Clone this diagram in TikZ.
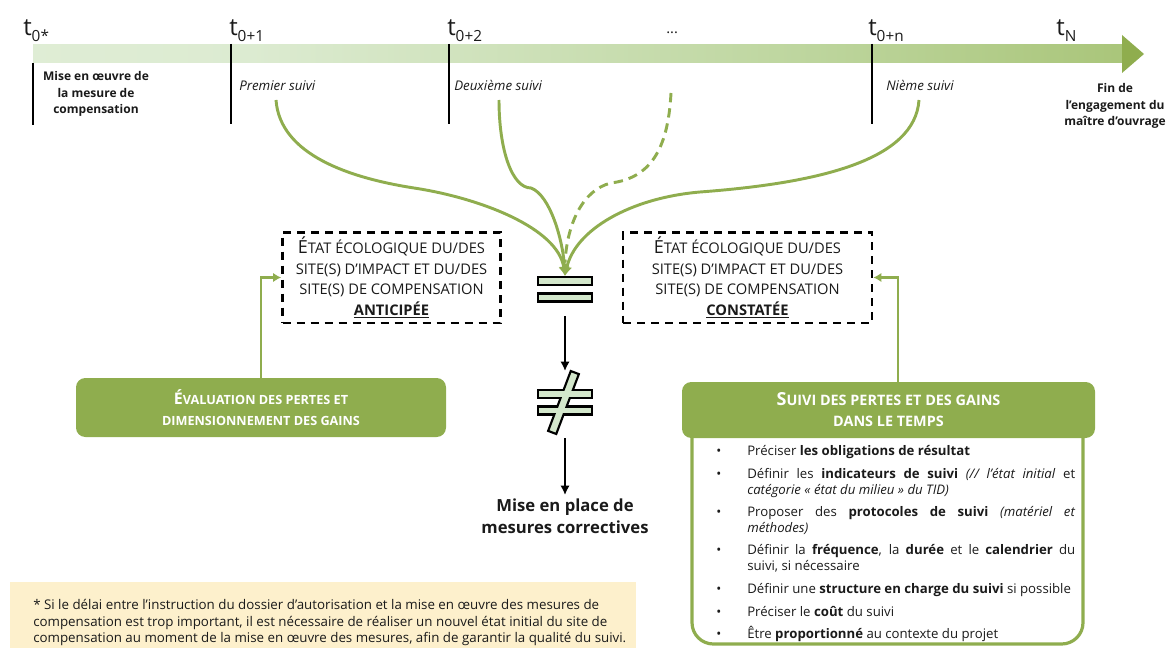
\documentclass[tikz,border=0pt]{standalone}
\usepackage{fontspec}
\setmainfont{Open Sans}
\usetikzlibrary{arrows.meta}
\definecolor{gr}{HTML}{8FAD4E}
\definecolor{barA}{HTML}{E6F1DE}
\definecolor{barB}{HTML}{DCEBD1}
\definecolor{barC}{HTML}{BED69F}
\definecolor{barD}{HTML}{A3C06E}
\definecolor{eqf}{HTML}{D3E7CB}
\definecolor{notef}{HTML}{FDF0CC}
\definecolor{ink}{HTML}{1A1A1A}
\pgfdeclarehorizontalshading{barshade}{100bp}{color(0bp)=(barA); color(35bp)=(barB); color(60bp)=(barC); color(80bp)=(barD); color(100bp)=(gr)}
\newcommand\bigsc[2]{{\fontsize{#1}{14}\selectfont #2}}
\newcommand\lowsc[2]{{\fontsize{#1}{14}\selectfont #2}}
\newcommand\tsub[1]{t\raisebox{-4.5pt}{\fontsize{11.5}{12}\selectfont #1}}
\begin{document}
\begin{tikzpicture}[x=0.75pt,y=-0.75pt,
  tlab/.style={anchor=base west, inner sep=0, text=ink, font=\fontsize{18}{20}\selectfont},
  tick/.style={draw=black, line width=1.8pt},
  sub/.style={anchor=base west, inner sep=0, text=ink, font=\fontsize{10}{11}\selectfont\itshape},
  bold9/.style={inner sep=0, text=ink, align=center, font=\fontsize{9}{12.5}\selectfont\bfseries},
  flow/.style={draw=gr, line width=2.2pt},
  flowtip/.style={flow, -{Latex[length=7pt,width=8pt]}},
  dbox/.style={draw=black, line width=2pt, dash pattern=on 6pt off 4.5pt, minimum height=68pt, inner sep=0, align=center, text=ink, font=\fontsize{11}{15.4}\selectfont},
  hdr/.style={fill=gr, rounded corners=7pt, inner sep=0, text=white, align=center, font=\fontsize{9}{15.75}\selectfont\bfseries},
  eqbar/.style={draw=black, line width=1.6pt, fill=eqf, minimum width=40.5pt, minimum height=6pt, inner sep=0},
  eqfillonly/.style={fill=eqf, minimum width=38.5pt, minimum height=4pt, inner sep=0},
  blk/.style={draw=black, line width=1.5pt, -{Latex[length=7pt,width=7pt]}},
  garr/.style={draw=gr, line width=2pt, -{Latex[length=6pt,width=7pt]}},
  item/.style={anchor=base west, inner sep=0, text=ink, font=\fontsize{9.9}{11}\selectfont},
  note/.style={anchor=base west, inner sep=0, text=ink, font=\fontsize{10}{11}\selectfont}]
\useasboundingbox (0,0) rectangle (1171,649);

% timeline
\shade[shading=barshade] (33,45) rectangle (1123,63);
\fill[gr] (1122,35) -- (1144,54) -- (1122,73) -- cycle;
\coordinate (k0a) at (33,63);  \coordinate (k0b) at (33,125);
\coordinate (k1a) at (231,44); \coordinate (k1b) at (231,124);
\coordinate (k2a) at (449,44); \coordinate (k2b) at (449,124);
\coordinate (kna) at (872,44); \coordinate (knb) at (872,124);
\draw[tick] (k0a) -- (k0b);
\draw[tick] (k1a) -- (k1b);
\draw[tick] (k2a) -- (k2b);
\draw[tick] (kna) -- (knb);
\node[tlab] (t0) at (23,36) {\tsub{0*}};
\node[tlab] (t1) at (229,36) {\tsub{0+1}};
\node[tlab] (t2) at (447,36) {\tsub{0+2}};
\node[tlab] (tdots) at (666,34) {\fontsize{11}{12}\selectfont ...};
\node[tlab] (tn) at (868,36) {\tsub{0+n}};
\node[tlab] (tN) at (1056,36) {\tsub{N}};

\node[bold9] (mise) at (96,94) {Mise en œuvre de\\la mesure de\\compensation};
\node[sub] (s1) at (239,91) {Premier suivi};
\node[sub] (s2) at (454,91) {Deuxième suivi};
\node[sub] (sn) at (886,91) {Nième suivi};
\node[bold9] (fin) at (1115,106) {Fin de\\l’engagement du\\maître d’ouvrage};

% equality sign
\node[eqbar] (eq1) at (565,281) {};
\node[eqbar] (eq2) at (565,297.5) {};

% curves
\coordinate (c1) at (276,100);
\coordinate (c2) at (499,100);
\coordinate (c3) at (671,93);
\coordinate (c4) at (919,100);
\draw[flowtip] (c1) .. controls (280,155) and (350,178) .. (414,188) .. controls (480,198) and (558,228) .. (eq1.north);
\draw[flowtip] (c2) .. controls (499,150) and (512,188) .. (531,188) .. controls (550,195) and (563,240) .. (eq1.north);
\draw[flowtip] (c4) .. controls (915,160) and (820,183) .. (700,192) .. controls (630,198) and (575,230) .. (eq1.north);
\draw[flow, dash pattern=on 7pt off 4.5pt] (c3) .. controls (668,150) and (650,178) .. (611,183) .. controls (582,190) and (567,225) .. ([yshift=10pt]eq1.north);

% dashed boxes
\node[dbox, minimum width=163.5pt] (boxL) at (391.5,277.5) {\bigsc{13.5}{É}\lowsc{11}{TAT ÉCOLOGIQUE DU/DES}\\\lowsc{11}{SITE(S) D’IMPACT ET DU/DES}\\\lowsc{11}{SITE(S) DE COMPENSATION}\\{\bfseries\fontsize{11}{14}\selectfont\underline{ANTICIPÉE}}};
\node[dbox, minimum width=186.75pt] (boxR) at (747.5,277.5) {\bigsc{13.5}{É}\lowsc{11}{TAT ÉCOLOGIQUE DU/DES}\\\lowsc{11}{SITE(S) D’IMPACT ET DU/DES}\\\lowsc{11}{SITE(S) DE COMPENSATION}\\{\bfseries\fontsize{11}{14}\selectfont\underline{CONSTATÉE}}};

% not-equal sign
\node[eqbar] (ne1) at (565,394) {};
\node[eqbar] (ne2) at (565,410.5) {};
\node[draw=black, line width=1.6pt, fill=eqf, minimum width=48pt, minimum height=6.5pt, inner sep=0, rotate=69.3] (slash) at (563.5,402.5) {};
\node[eqfillonly] at (ne1) {};
\node[eqfillonly] at (ne2) {};

\coordinate (a1s) at (565,316);
\coordinate (a1e) at (565,371);
\coordinate (a2s) at (565,438);
\coordinate (a2e) at (565,495);
\draw[blk] (a1s) -- (a1e);
\draw[blk] (a2s) -- (a2e);
\node[inner sep=0, text=ink, align=center, font=\fontsize{12.5}{16.5}\selectfont\bfseries] (corr) at (565,516) {Mise en place de\\mesures correctives};

% headers
\node[hdr, minimum width=277.5pt, minimum height=44.25pt] (eval) at (261,407.5) {\bigsc{12}{É}\lowsc{9.5}{VALUATION DES PERTES ET}\\\lowsc{9.5}{DIMENSIONNEMENT DES GAINS}};
\node[draw=gr, line width=2.4pt, rounded corners=16pt, minimum width=293.25pt, minimum height=183pt, inner sep=0] (frame) at (887.5,522) {};
\node[hdr, minimum width=309.75pt, minimum height=42pt] (suivi) at (888.5,410) {\bigsc{13.5}{S}\lowsc{10.8}{UIVI DES PERTES ET DES GAINS}\\\lowsc{10.8}{DANS LE TEMPS}};

\draw[garr] (eval.north) |- (boxL.west);
\draw[garr] ([xshift=7pt]suivi.north) |- (boxR.east);

% bullets
\foreach \yy/\nm in {455/b1,478/b2,516/b3,554/b4,593/b5,616/b6,638/b7}
  \node[item] (\nm) at (716,\yy) {•};
\node[item] (i1) at (747,455) {Préciser \textbf{les obligations de résultat}};
\node[item] (i2a) at (747,478) {\makebox[246pt][s]{Définir les \textbf{indicateurs de suivi} \textit{(// l’état initial} et}};
\node[item] (i2b) at (747,494) {\textit{catégorie « état du milieu » du TID)}};
\node[item] (i3a) at (747,516) {\makebox[246pt][s]{Proposer des \textbf{protocoles de suivi} \textit{(matériel et}}};
\node[item] (i3b) at (747,532) {\textit{méthodes)}};
\node[item] (i4a) at (747,554) {\makebox[246pt][s]{Définir la \textbf{fréquence}, la \textbf{durée} et le \textbf{calendrier} du}};
\node[item] (i4b) at (747,570) {suivi, si nécessaire};
\node[item] (i5) at (747,593) {Définir une \textbf{structure en charge du suivi} si possible};
\node[item] (i6) at (747,616) {Préciser le \textbf{coût} du suivi};
\node[item] (i7) at (747,638) {Être \textbf{proportionné} au contexte du projet};

% footnote
\node[fill=notef, minimum width=469.5pt, minimum height=49.5pt, inner sep=0] (nbox) at (323,615) {};
\node[note] (n1) at (33,609) {* Si le délai entre l’instruction du dossier d’autorisation et la mise en œuvre des mesures de};
\node[note] (n2) at (33,626) {compensation est trop important, il est nécessaire de réaliser un nouvel état initial du site de};
\node[note] (n3) at (33,642) {compensation au moment de la mise en œuvre des mesures, afin de garantir la qualité du suivi.};
\end{tikzpicture}
\end{document}
